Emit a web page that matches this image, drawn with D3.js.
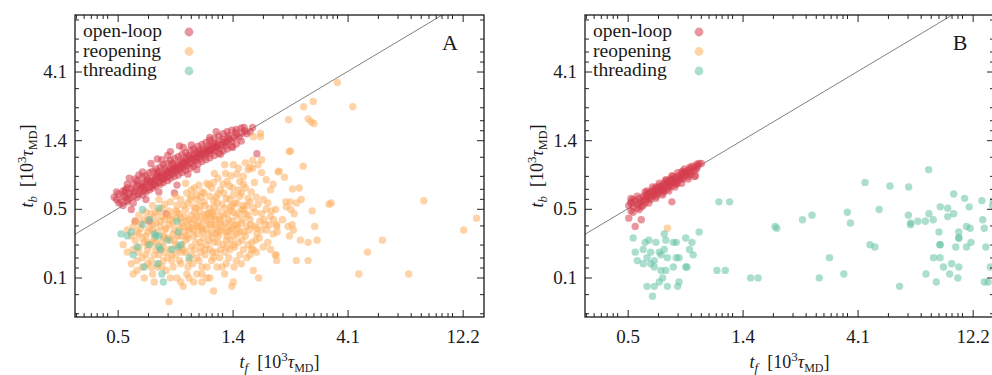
<!DOCTYPE html>
<html>
<head>
<meta charset="utf-8">
<script src="https://cdn.jsdelivr.net/npm/d3@7"></script>
<style>
body{margin:0;background:#fff;}
text{font-family:"Liberation Serif","DejaVu Serif",serif;fill:#1a1a1a;}
</style>
</head>
<body>
<svg width="992" height="375"></svg>
<script>
'use strict';

// tick positions (data units) and the labels printed on them
const xTickValues = [0.475, 1.40, 4.13, 12.19];
const xTickLabels = ["0.5", "1.4", "4.1", "12.2"];
const yTickValues = [0.161, 0.475, 1.40, 4.13];
const yTickLabels = ["0.1", "0.5", "1.4", "4.1"];
const xMinorFactors = [1.33, 1.60, 1.81, 1.99, 2.14, 2.29, 2.42, 2.56, 2.67];
const yMinorFactors = [1.17, 1.37, 1.68, 2.27];

const seriesNames = ["open-loop", "reopening", "threading"];
const seriesColors = ["#d53e4f", "#fdae61", "#66c2a5"];
const panelLabels = ["A", "B"];

// panel A, [t_f, t_b]
const aOpenLoop = [
[0.47,0.55],[0.48,0.60],[0.49,0.53],[0.50,0.58],[0.51,0.62],[0.52,0.55],[0.53,0.60],[0.54,0.65],[0.55,0.58],[0.56,0.63],
[0.57,0.68],[0.58,0.60],[0.59,0.66],[0.60,0.71],[0.61,0.64],[0.62,0.69],[0.63,0.74],[0.64,0.67],[0.65,0.72],[0.66,0.77],
[0.67,0.70],[0.68,0.75],[0.69,0.80],[0.70,0.72],[0.71,0.78],[0.72,0.83],[0.73,0.76],[0.74,0.81],[0.75,0.86],[0.76,0.79],
[0.77,0.84],[0.78,0.89],[0.79,0.82],[0.80,0.87],[0.81,0.92],[0.82,0.85],[0.83,0.90],[0.84,0.96],[0.85,0.88],[0.86,0.93],
[0.87,0.99],[0.88,0.91],[0.89,0.97],[0.90,1.02],[0.91,0.94],[0.92,1.00],[0.93,1.06],[0.95,0.97],[0.96,1.04],[0.97,1.10],
[0.99,1.01],[1.00,1.08],[1.01,1.14],[1.03,1.05],[1.04,1.12],[1.06,1.18],[1.08,1.09],[1.09,1.16],[1.11,1.22],[1.13,1.13],
[1.14,1.20],[1.16,1.27],[1.18,1.18],[1.20,1.25],[1.22,1.32],[1.24,1.23],[1.26,1.30],[1.28,1.37],[1.31,1.29],[1.33,1.36],
[1.36,1.42],[1.39,1.38],[1.42,1.46],[1.45,1.52],[1.49,1.47],[1.53,1.56],[1.57,1.62],[1.60,1.55],
[0.55,0.62],[0.60,0.67],[0.65,0.73],[0.70,0.78],[0.75,0.83],[0.80,0.88],[0.85,0.92],[0.90,0.98],[0.95,1.03],[1.00,1.07],
[1.05,1.12],[1.10,1.17],[1.15,1.21],[1.20,1.26],[1.30,1.35],[0.72,0.76],[0.78,0.85],[0.82,0.89],[0.88,0.96],[0.98,1.05],
[1.07,1.14],[1.12,1.19],[1.17,1.24],[0.62,0.72],[0.68,0.79],[0.74,0.78],[0.66,0.69],[0.58,0.63],[0.53,0.57],
[0.48,0.52],[0.51,0.57],[0.54,0.47],[0.56,0.39],[0.64,0.39],[0.75,0.44],[0.81,0.61],[0.83,0.69],[0.69,1.04],[0.65,0.97],
[0.58,0.81],[0.53,0.77],[0.51,0.64],[0.78,1.17],[0.85,1.28],[1.13,1.46],[1.56,1.71],[1.69,1.71],[1.76,1.13],
[0.50,0.50],[0.50,0.63],[0.52,0.66],[0.52,0.53],[0.55,0.52],[0.55,0.70],[0.57,0.57],[0.57,0.74],[0.60,0.59],[0.60,0.78],
[0.62,0.62],[0.62,0.80],[0.64,0.64],[0.64,0.84],[0.66,0.66],[0.66,0.86],[0.68,0.68],[0.68,0.89],[0.71,0.70],[0.71,0.92],
[0.73,0.72],[0.73,0.95],[0.76,0.74],[0.76,0.98],[0.78,0.77],[0.78,1.02],[0.81,0.79],[0.81,1.05],[0.84,0.81],[0.84,1.08],
[0.87,0.84],[0.87,1.12],[0.90,0.87],[0.90,1.15],[0.94,0.90],[0.94,1.19],[0.97,0.93],[0.97,1.22],[1.01,0.96],[1.01,1.27],
[1.05,1.00],[1.05,1.31],[1.09,1.03],[1.09,1.35],[1.13,1.06],[1.13,1.40],[1.18,1.10],[1.18,1.44],[1.23,1.14],[1.23,1.49],
[1.28,1.18],[1.28,1.55],[1.33,1.22],[1.33,1.60],[1.39,1.27],[1.39,1.64],[1.45,1.32],[1.45,1.66],[1.52,1.38],[1.52,1.70],
[0.58,0.70],[0.63,0.76],[0.69,0.84],[0.74,0.90],[0.79,0.95],[0.86,1.02],[0.93,1.10],[0.99,1.16],[1.06,1.22],[1.12,1.28],
[1.19,1.34],[1.27,1.42],[1.35,1.50],[1.44,1.58],[0.61,0.66],[0.67,0.74],[0.72,0.80],[0.77,0.87],[0.83,0.93],[0.89,0.99],
[0.96,1.06],[1.03,1.13],[1.10,1.20],[1.21,1.29],[1.34,1.45],[0.70,0.86],[0.80,0.97],[0.91,1.08],[1.02,1.19],[1.15,1.32],
[0.46,0.57],[0.47,0.62],[0.52,0.70],[0.56,0.76],[0.60,0.85],[0.72,1.03],[0.76,1.10],[0.95,1.30],[1.00,0.88],[0.92,0.82],
[1.25,1.12],[1.40,1.25],[0.70,0.62],[0.62,0.55],[1.65,1.60],[1.20,1.60],[0.88,1.25]
];
const aReopening = [
[1.30,0.95],[1.41,0.95],[1.58,0.98],[1.69,1.02],[1.84,1.03],[1.69,0.90],[1.65,0.91],[1.46,0.82],[1.31,0.83],[1.18,0.83],
[1.17,0.72],[1.33,0.73],[1.50,0.73],[1.55,0.70],[1.84,0.84],[2.15,0.85],[1.10,0.71],[1.02,0.69],[0.90,0.71],[0.91,0.61],
[0.86,0.55],[0.95,0.58],[1.00,0.59],[1.07,0.61],[1.13,0.58],[1.29,0.61],[1.41,0.59],[1.52,0.61],[1.67,0.62],[2.00,0.64],
[1.87,0.55],[1.65,0.53],[1.46,0.52],[1.37,0.49],[1.21,0.52],[1.13,0.48],[1.03,0.50],[0.97,0.49],[0.90,0.47],[0.83,0.45],
[0.78,0.53],[0.72,0.48],[0.67,0.42],[0.63,0.40],[0.59,0.38],[0.54,0.31],[0.57,0.33],[0.62,0.31],[0.66,0.34],[0.71,0.36],
[0.74,0.40],[0.79,0.42],[0.86,0.41],[0.91,0.39],[1.00,0.42],[1.10,0.44],[1.17,0.42],[1.29,0.43],[1.41,0.45],[1.55,0.47],
[1.70,0.48],[1.84,0.44],[2.00,0.42],[2.06,0.40],[1.90,0.37],[1.76,0.35],[1.60,0.36],[1.46,0.37],[1.35,0.36],[1.25,0.38],
[1.13,0.37],[1.05,0.35],[0.97,0.34],[0.91,0.31],[0.84,0.31],[0.78,0.29],[0.73,0.31],[0.68,0.28],[0.63,0.28],[0.58,0.26],
[0.55,0.25],[0.60,0.22],[0.65,0.21],[0.70,0.20],[0.76,0.22],[0.82,0.23],[0.88,0.25],[0.95,0.26],[1.03,0.28],[1.12,0.29],
[1.23,0.31],[1.33,0.31],[1.46,0.32],[1.58,0.31],[1.76,0.32],[1.93,0.34],[2.12,0.36],[2.00,0.25],[2.09,0.23],[1.87,0.26],
[1.70,0.25],[1.55,0.25],[1.43,0.26],[1.33,0.26],[1.25,0.25],[1.17,0.22],[1.08,0.23],[1.00,0.22],[0.93,0.21],[0.86,0.20],
[0.80,0.19],[0.83,0.16],[0.91,0.17],[1.00,0.17],[1.10,0.19],[1.21,0.19],[1.27,0.19],[1.13,0.16],[1.05,0.17],[0.97,0.15],
[0.88,0.14],[0.86,0.15],[0.78,0.16],[0.66,0.17],[0.65,0.19],[0.60,0.19],[0.54,0.20],[0.55,0.17],[0.57,0.18],[0.69,0.19],
[0.73,0.21],[0.71,0.25],[0.67,0.23],[0.63,0.25],[0.78,0.25],[1.05,0.15],[1.17,0.13],[1.41,0.15],[1.39,0.14],[1.70,0.18],
[1.79,0.16],[1.67,0.25],[0.77,0.11],[0.93,0.16],[0.81,0.34],
[0.62,0.45],[0.68,0.38],[0.72,0.42],[0.75,0.35],[0.80,0.38],[0.85,0.44],[0.88,0.36],[0.93,0.40],[0.98,0.45],[1.02,0.38],
[1.06,0.33],[1.10,0.40],[1.15,0.45],[1.20,0.35],[1.25,0.42],[1.30,0.48],[1.35,0.40],[1.40,0.35],[1.45,0.42],[1.52,0.38],
[1.58,0.44],[0.66,0.28],[0.74,0.30],[0.82,0.27],[0.90,0.29],[0.97,0.31],[1.04,0.26],[1.12,0.32],[1.18,0.28],[1.28,0.27],
[1.38,0.29],[1.48,0.28],[0.70,0.23],[0.79,0.21],[0.87,0.24],[0.95,0.23],[1.02,0.21],[1.08,0.25],[1.16,0.24],[1.24,0.22],
[0.60,0.30],[0.64,0.35],[0.77,0.46],[0.83,0.50],[0.92,0.52],[1.00,0.55],[1.08,0.50],[1.17,0.54],[1.22,0.60],[1.32,0.56],
[1.43,0.52],[1.55,0.50],[1.62,0.56],[0.95,0.64],[1.05,0.62],[1.15,0.66],[1.25,0.64],[1.36,0.68],[1.48,0.64],[0.86,0.31],
[0.93,0.34],[1.00,0.36],[1.14,0.37],[1.22,0.33],[0.73,0.26],[0.63,0.27],[0.58,0.32],[0.55,0.36],[0.68,0.45],[0.78,0.40],
[0.89,0.42],[0.96,0.38],[1.04,0.42],[1.12,0.44],[1.19,0.40],[1.27,0.36],[1.34,0.33],[1.42,0.31],[1.50,0.33],[1.65,0.40],
[1.72,0.36],[1.80,0.30],[1.88,0.40],[1.95,0.28],[2.05,0.32],[1.68,0.28],[1.60,0.22],[1.75,0.24],[1.52,0.20],[1.35,0.22],
[1.42,0.19],[1.30,0.17],[1.10,0.16],[0.92,0.19],[0.75,0.18],[0.67,0.15],[0.61,0.16],[0.57,0.21],[0.52,0.24],[0.50,0.27],
[0.70,0.55],[0.82,0.58],[0.94,0.55],[1.04,0.57],[1.20,0.57],[1.36,0.55],[1.50,0.58],[1.75,0.57],[1.95,0.52],[2.10,0.47],
[0.66,0.50],[0.74,0.51],[0.88,0.50],[0.99,0.48],[1.07,0.53],[1.18,0.49],[1.27,0.51],[1.40,0.50],[1.52,0.47],[1.60,0.50],
[1.78,0.51],[1.92,0.47],[0.58,0.43],[0.65,0.44],[0.70,0.46],[0.76,0.43],[0.82,0.46],[0.95,0.43],[1.03,0.46],[1.08,0.43],
[1.16,0.44],[1.22,0.46],[1.33,0.44],[1.38,0.46],[1.48,0.44],[1.62,0.43],[1.73,0.45],[2.02,0.46],[0.56,0.39],[0.61,0.40],
[0.66,0.37],[0.71,0.39],[0.77,0.37],[0.83,0.41],[0.87,0.38],[0.92,0.36],[0.98,0.40],[1.02,0.36],[1.07,0.39],[1.14,0.41],
[1.19,0.37],[1.24,0.40],[1.31,0.38],[1.39,0.39],[1.44,0.37],[1.54,0.40],[1.66,0.37],[1.81,0.39],[1.98,0.37],[0.52,0.34],
[0.59,0.35],[0.63,0.33],[0.69,0.33],[0.74,0.34],[0.80,0.32],[0.85,0.35],[0.89,0.33],[0.95,0.35],[1.00,0.32],[1.05,0.34],
[1.09,0.35],[1.15,0.33],[1.20,0.32],[1.26,0.34],[1.31,0.33],[1.38,0.34],[1.47,0.35],[1.56,0.33],[1.64,0.34],[1.83,0.34],
[0.56,0.29],[0.61,0.28],[0.67,0.30],[0.72,0.28],[0.77,0.30],[0.81,0.29],[0.87,0.27],[0.92,0.30],[0.99,0.28],[1.06,0.30],
[1.10,0.27],[1.16,0.30],[1.22,0.28],[1.32,0.29],[1.41,0.27],[1.53,0.29],[1.62,0.27],[1.74,0.29],[0.58,0.24],[0.62,0.23],
[0.68,0.25],[0.74,0.24],[0.79,0.23],[0.84,0.25],[0.90,0.24],[0.98,0.25],[1.04,0.24],[1.13,0.25],[1.20,0.24],[1.30,0.24],
[1.37,0.25],[1.50,0.23],[1.65,0.23],[0.63,0.20],[0.72,0.19],[0.85,0.21],[0.96,0.20],[1.05,0.19],[1.15,0.21],[1.32,0.20],
[1.45,0.21],[0.98,0.66],[1.12,0.69],[1.28,0.70],[1.40,0.66],[1.58,0.66],[1.72,0.72],[1.22,0.77],[1.38,0.80],[1.55,0.79],
[1.62,0.88],[1.48,0.90],[1.78,0.95],[1.92,0.75],[2.05,0.70],
[2.39,1.17],[2.72,0.93],[2.17,0.86],[2.28,0.78],[2.46,0.65],[2.62,0.66],[2.31,0.53],[2.41,0.53],[2.56,0.52],[2.67,0.55],
[2.32,0.49],[2.42,0.47],[2.50,0.44],[2.96,0.46],[3.47,0.51],[3.54,0.52],[2.24,0.40],[2.12,0.37],[2.36,0.36],[2.45,0.37],
[2.48,0.34],[3.03,0.36],[2.13,0.33],[2.39,0.31],[2.65,0.29],[2.85,0.28],[3.10,0.29],[2.11,0.23],[2.12,0.21],[2.55,0.21],
[2.85,0.21],[4.98,0.24],[5.73,0.29],[4.59,0.17],[7.34,0.17],[8.46,0.54],[12.3,0.34],[13.9,0.41],[3.75,3.47],[2.99,2.58],
[2.73,2.37],[4.34,2.37],[2.37,1.93],[2.85,1.96],[2.93,1.87],[3.01,1.82],[2.41,1.18],[1.82,1.56],[1.82,1.48],[1.70,1.48]
];
const aThreading = [
[0.49,0.32],[0.52,0.31],[0.54,0.33],[0.60,0.47],[0.70,0.48],[0.64,0.40],[0.60,0.37],[0.68,0.31],[0.70,0.31],[0.76,0.29],
[0.83,0.39],[0.84,0.33],[0.79,0.25],[0.84,0.26],[0.93,0.22],[0.70,0.26],[0.71,0.25],[0.64,0.27],[0.57,0.26],[0.55,0.23],
[0.61,0.19],[0.69,0.20],[0.72,0.17],[0.73,0.15],[0.67,0.32],[0.86,0.27]
];

// panel B, [t_f, t_b]
const bOpenLoop = [
[0.48,0.50],[0.49,0.53],[0.50,0.49],[0.51,0.54],[0.52,0.51],[0.53,0.56],[0.54,0.53],[0.55,0.58],[0.55,0.54],[0.56,0.57],
[0.57,0.60],[0.58,0.56],[0.58,0.61],[0.59,0.59],[0.60,0.63],[0.61,0.60],[0.61,0.65],[0.62,0.62],[0.63,0.66],[0.64,0.63],
[0.64,0.68],[0.65,0.65],[0.66,0.69],[0.67,0.66],[0.67,0.71],[0.68,0.68],[0.69,0.72],[0.70,0.69],[0.70,0.74],[0.71,0.71],
[0.72,0.75],[0.73,0.72],[0.74,0.77],[0.75,0.74],[0.76,0.79],[0.77,0.76],[0.78,0.81],[0.79,0.78],[0.80,0.83],[0.81,0.80],
[0.82,0.85],[0.83,0.82],[0.84,0.87],[0.85,0.84],[0.86,0.89],[0.88,0.86],[0.89,0.92],[0.90,0.88],[0.62,0.58],[0.66,0.64],
[0.70,0.67],[0.74,0.72],[0.78,0.76],[0.57,0.55],[0.60,0.58],[0.53,0.52],
[0.49,0.52],[0.49,0.46],[0.48,0.41],[0.54,0.40],[0.51,0.36],[0.72,0.53],[0.89,0.79],[0.95,0.97],[0.92,0.94],
[0.52,0.48],[0.56,0.52],[0.59,0.55],[0.63,0.60],[0.66,0.61],[0.69,0.65],[0.72,0.68],[0.76,0.71],[0.80,0.76],[0.84,0.79],
[0.57,0.63],[0.62,0.67],[0.68,0.74],[0.73,0.79],[0.79,0.85],[0.85,0.91],[0.91,0.96],
[0.49,0.56],[0.50,0.45],[0.52,0.58],[0.54,0.49],[0.56,0.62],[0.58,0.52],[0.60,0.67],[0.62,0.56],[0.64,0.71],[0.66,0.59],
[0.68,0.75],[0.70,0.63],[0.72,0.80],[0.74,0.67],[0.76,0.84],[0.79,0.71],[0.81,0.89],[0.84,0.76],[0.87,0.93],[0.90,0.80],
[0.93,0.97],[0.55,0.50],[0.59,0.62],[0.63,0.64],[0.67,0.63],[0.71,0.76],[0.75,0.70],[0.80,0.86],[0.86,0.82],[0.91,0.90],
[0.50,0.55],[0.53,0.47],[0.57,0.58],[0.65,0.67],[0.73,0.74],[0.82,0.83]
];
const bReopening = [[0.69,0.35]];
const bThreading = [
[0.50,0.30],[0.58,0.29],[0.56,0.28],[0.62,0.28],[0.67,0.32],[0.68,0.29],[0.73,0.28],[0.75,0.28],[0.82,0.30],[0.87,0.28],
[0.85,0.25],[0.88,0.23],[0.93,0.33],[0.51,0.24],[0.55,0.25],[0.59,0.24],[0.64,0.24],[0.65,0.23],[0.69,0.22],[0.75,0.22],
[0.77,0.22],[0.52,0.21],[0.55,0.20],[0.59,0.20],[0.61,0.21],[0.57,0.22],[0.61,0.19],[0.65,0.18],[0.68,0.18],[0.73,0.19],
[0.82,0.19],[0.83,0.19],[0.66,0.16],[0.64,0.15],[0.57,0.14],[0.61,0.14],[0.60,0.12],[0.69,0.14],[0.76,0.14],[0.77,0.15],
[1.10,0.18],[1.19,0.18],[1.51,0.16],[1.62,0.16],[1.12,0.53],[1.24,0.53],[1.93,0.35],[0.67,0.25],
[1.90,0.36],[2.46,0.40],[2.69,0.43],[3.17,0.22],[2.88,0.16],[3.63,0.17],[3.75,0.45],[3.86,0.38],[4.43,0.72],[5.06,0.47],
[4.64,0.27],[4.86,0.26],[5.60,0.68],[6.68,0.67],[6.66,0.43],[6.80,0.38],[6.80,0.37],[7.28,0.39],[7.81,0.39],[8.41,0.40],
[8.08,0.44],[8.06,0.88],[6.13,0.14],[7.86,0.17],[8.66,0.15],[8.44,0.22],[8.97,0.22],[9.26,0.19],[9.82,0.17],[10.0,0.20],
[10.6,0.16],[10.7,0.19],[8.88,0.33],[8.97,0.27],[8.97,0.27],[8.99,0.49],[9.64,0.48],[9.64,0.42],[10.2,0.44],[10.2,0.60],
[10.4,0.26],[10.7,0.33],[10.7,0.30],[10.7,0.30],[11.5,0.36],[11.9,0.35],[11.5,0.26],[12.0,0.28],[11.3,0.56],[11.8,0.49],
[13.3,0.54],[13.4,0.40],[13.6,0.35],[13.8,0.26],[14.4,0.19],[13.6,0.15],[14.1,0.15],[14.8,0.54],[14.7,0.50]
];

const panelData = [
    [aOpenLoop, aReopening, aThreading],
    [bOpenLoop, bReopening, bThreading]
];

const svg = d3.select("svg");
const plotW = 409;
const plotH = 302;
const panelLefts = [75, 585];
const plotTop = 15;

const x = d3.scaleLog().domain([0.318, 14.9]).range([0, plotW]);
const y = d3.scaleLog().domain([0.0864, 10.06]).range([plotH, 0]);

function minorTicks(majors, factors, scale) {
    const step = majors[1] / majors[0];
    const bases = [majors[0] / step].concat(majors);
    const dom = scale.domain();
    const out = [];
    bases.forEach(b => factors.forEach(f => {
        const v = b * f;
        if (v > dom[0] && v < dom[1] && !majors.includes(v)) out.push(v);
    }));
    return out;
}
const xMinor = minorTicks(xTickValues, xMinorFactors, x);
const yMinor = minorTicks(yTickValues, yMinorFactors, y);

function drawAxes(g) {
    const major = 7, minor = 4;
    g.append("g").attr("transform", `translate(0,${plotH})`)
        .call(d3.axisBottom(x).tickValues(xTickValues).tickFormat((d, i) => xTickLabels[i])
            .tickSize(-major).tickPadding(13));
    g.append("g").attr("transform", `translate(0,${plotH})`)
        .call(d3.axisBottom(x).tickValues(xMinor).tickFormat("").tickSize(-minor));
    g.append("g")
        .call(d3.axisTop(x).tickValues(xTickValues).tickFormat("").tickSize(-major));
    g.append("g")
        .call(d3.axisTop(x).tickValues(xMinor).tickFormat("").tickSize(-minor));
    g.append("g")
        .call(d3.axisLeft(y).tickValues(yTickValues).tickFormat((d, i) => yTickLabels[i])
            .tickSize(-major).tickPadding(8));
    g.append("g")
        .call(d3.axisLeft(y).tickValues(yMinor).tickFormat("").tickSize(-minor));
    g.append("g").attr("transform", `translate(${plotW},0)`)
        .call(d3.axisRight(y).tickValues(yTickValues).tickFormat("").tickSize(-major));
    g.append("g").attr("transform", `translate(${plotW},0)`)
        .call(d3.axisRight(y).tickValues(yMinor).tickFormat("").tickSize(-minor));

    g.selectAll(".domain").remove();
    g.selectAll(".tick line").attr("stroke", "#222").attr("stroke-width", 1);
    g.selectAll(".tick text")
        .attr("font-family", "Liberation Serif, DejaVu Serif, serif")
        .attr("font-size", 19)
        .attr("fill", "#1a1a1a");
}

function unitLabel(t, sub) {
    t.append("tspan").attr("font-style", "italic").text("t");
    t.append("tspan").attr("font-style", "italic").attr("font-size", 13).attr("dy", 4).text(sub);
    t.append("tspan").attr("dy", -4).text("\u2002[10");
    t.append("tspan").attr("font-size", 13).attr("dy", -7).text("3");
    t.append("tspan").attr("font-style", "italic").attr("dy", 7).text("\u03c4");
    t.append("tspan").attr("font-size", 12).attr("dy", 4).text("MD");
    t.append("tspan").attr("dy", -4).text("]");
}

panelLefts.forEach((left, p) => {
    const g = svg.append("g").attr("transform", `translate(${left},${plotTop})`);

    g.append("defs").append("clipPath").attr("id", "clip" + p)
        .append("rect").attr("width", plotW).attr("height", plotH);

    const inner = g.append("g").attr("clip-path", `url(#clip${p})`);

    // t_b = t_f
    inner.append("line")
        .attr("x1", x(0.318)).attr("y1", y(0.318))
        .attr("x2", x(14.9)).attr("y2", y(14.9))
        .attr("stroke", "#808080").attr("stroke-width", 1);

    panelData[p].forEach((pts, s) => {
        inner.append("g").selectAll("circle")
            .data(pts)
            .join("circle")
            .attr("cx", d => x(d[0]))
            .attr("cy", d => y(d[1]))
            .attr("r", 3.7)
            .attr("fill", seriesColors[s])
            .attr("fill-opacity", 0.55);
    });

    drawAxes(g);

    g.append("rect")
        .attr("width", plotW).attr("height", plotH)
        .attr("fill", "none").attr("stroke", "#1a1a1a").attr("stroke-width", 1.3);

    // legend
    const leg = g.append("g").attr("transform", "translate(8,22)");
    seriesNames.forEach((name, i) => {
        leg.append("text").attr("x", 0).attr("y", i * 19.5)
            .attr("font-size", 19.5).text(name);
        leg.append("circle").attr("cx", 106).attr("cy", i * 19.5 - 5)
            .attr("r", 4.4).attr("fill", seriesColors[i]).attr("fill-opacity", 0.55);
    });

    g.append("text").attr("x", 375).attr("y", 34.5)
        .attr("text-anchor", "middle").attr("font-size", 22).text(panelLabels[p]);

    const xl = g.append("text")
        .attr("x", plotW / 2).attr("y", 353)
        .attr("text-anchor", "middle").attr("font-size", 18);
    unitLabel(xl, "f");

    const yl = g.append("text")
        .attr("transform", `translate(-42,${plotH / 2}) rotate(-90)`)
        .attr("text-anchor", "middle").attr("font-size", 18);
    unitLabel(yl, "b");
});
</script>
</body>
</html>
